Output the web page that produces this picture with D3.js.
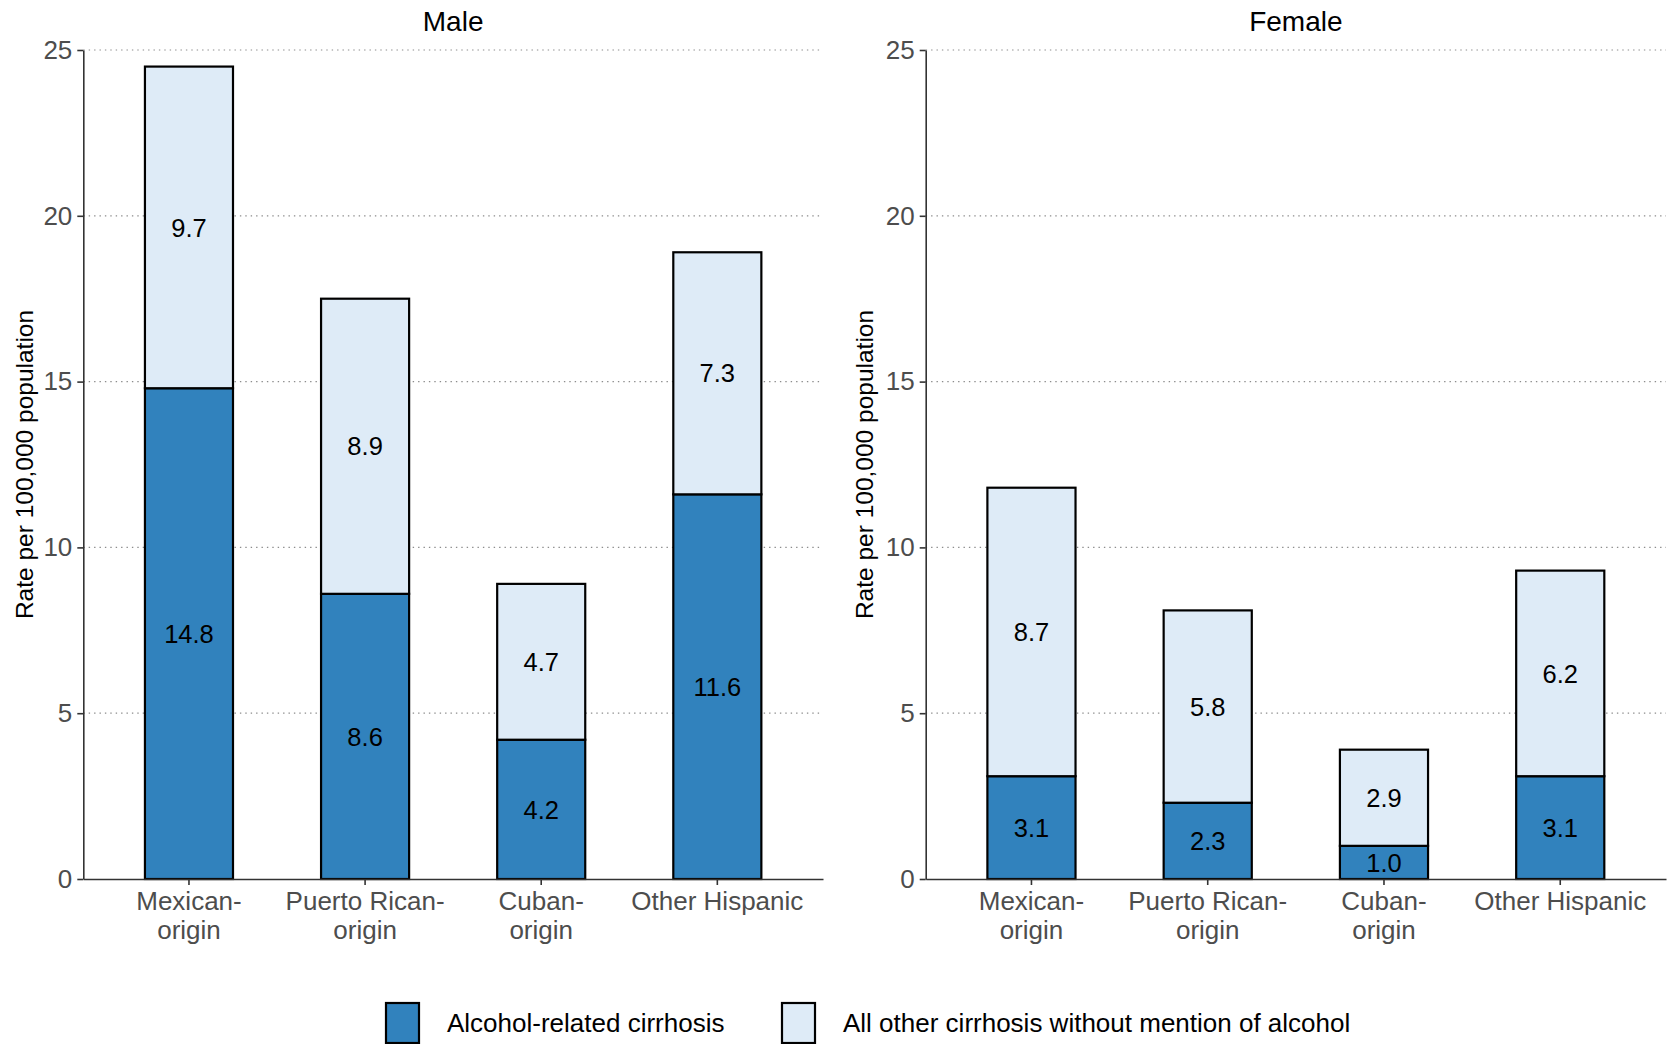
<!DOCTYPE html>
<html>
<head>
<meta charset="utf-8">
<script src="https://cdn.jsdelivr.net/npm/d3@7"></script>
<style>
  body { margin: 0; background: #fff; }
  text { font-family: "Liberation Sans", Arial, Helvetica, sans-serif; }
</style>
</head>
<body>
<div id="chart"></div>
<script>
// data
const categories = ["Mexican-origin", "Puerto Rican-origin", "Cuban-origin", "Other Hispanic"];
const maleAlcohol   = [14.8, 8.6, 4.2, 11.6];
const maleOther     = [9.7, 8.9, 4.7, 7.3];
const femaleAlcohol = [3.1, 2.3, 1.0, 3.1];
const femaleOther   = [8.7, 5.8, 2.9, 6.2];
const yTicks = [0, 5, 10, 15, 20, 25];
const seriesKeys = ["alcohol", "other"];
const seriesNames = ["Alcohol-related cirrhosis", "All other cirrhosis without mention of alcohol"];
const color = { alcohol: "#3182bd", other: "#deebf7" };

const width = 1669, height = 1044;
const svg = d3.select("#chart").append("svg")
    .attr("width", width)
    .attr("height", height);

const panelTop = 50, panelBottom = 879;
const y = d3.scaleLinear().domain([0, 25]).range([panelBottom, panelTop]);

function drawPanel(title, alcohol, other, left, right, titleX) {
  const rows = categories.map((c, i) => ({ cat: c, alcohol: alcohol[i], other: other[i] }));
  const stacked = d3.stack().keys(seriesKeys)(rows);

  const x = d3.scaleBand()
      .domain(categories)
      .range([left, right])
      .paddingInner(0.5)
      .paddingOuter(0.35);

  const g = svg.append("g");

  // gridlines
  g.append("g").selectAll("line")
    .data(yTicks.filter(d => d > 0))
    .enter().append("line")
      .attr("x1", left).attr("x2", right)
      .attr("y1", d => y(d)).attr("y2", d => y(d))
      .style("stroke", "#8c8c8c")
      .style("stroke-width", 1.2)
      .style("stroke-dasharray", "1.4,4");

  // bars
  g.append("g").selectAll("g")
    .data(stacked)
    .enter().append("g")
      .attr("fill", d => color[d.key])
    .selectAll("rect")
    .data(d => d)
    .enter().append("rect")
      .attr("x", d => x(d.data.cat))
      .attr("width", x.bandwidth())
      .attr("y", d => y(d[1]))
      .attr("height", d => y(d[0]) - y(d[1]))
      .style("stroke", "#000")
      .style("stroke-width", 2.2);

  // value labels in middle of each segment
  g.append("g").selectAll("g")
    .data(stacked)
    .enter().append("g")
    .selectAll("text")
    .data(d => d)
    .enter().append("text")
      .attr("x", d => x(d.data.cat) + x.bandwidth() / 2)
      .attr("y", d => y((d[0] + d[1]) / 2))
      .attr("dy", "0.36em")
      .attr("text-anchor", "middle")
      .style("font-size", "25.5px")
      .style("fill", "#000")
      .text(d => (d[1] - d[0]).toFixed(1));

  // y axis
  const yAxis = g.append("g")
      .attr("transform", `translate(${left},0)`)
      .call(d3.axisLeft(y).tickValues(yTicks).tickSize(6).tickPadding(5).tickSizeOuter(0));
  yAxis.select(".domain").style("stroke", "#333").style("stroke-width", 1.6);
  yAxis.selectAll(".tick line").style("stroke", "#333").style("stroke-width", 1.6);
  yAxis.selectAll(".tick text")
      .style("font-size", "26px")
      .style("fill", "#4d4d4d")
      .style("font-family", "'Liberation Sans', Arial, sans-serif");

  // x axis
  const xAxis = g.append("g")
      .attr("transform", `translate(0,${panelBottom})`)
      .call(d3.axisBottom(x).tickSize(6).tickPadding(7).tickSizeOuter(0));
  xAxis.select(".domain").style("stroke", "#333").style("stroke-width", 1.6);
  xAxis.selectAll(".tick line").style("stroke", "#333").style("stroke-width", 1.6);
  xAxis.selectAll(".tick text")
      .style("font-size", "26px")
      .style("fill", "#4d4d4d")
      .style("font-family", "'Liberation Sans', Arial, sans-serif")
      .each(function(d) {
        const t = d3.select(this);
        const parts = d.includes("-") ? [d.slice(0, d.indexOf("-") + 1), d.slice(d.indexOf("-") + 1)] : [d];
        t.text(null);
        parts.forEach((p, i) => {
          t.append("tspan")
            .attr("x", 0)
            .attr("dy", i === 0 ? "0.71em" : "1.1em")
            .text(p);
        });
      })
      .attr("dy", null);

  // panel title
  svg.append("text")
      .attr("x", (left + right) / 2)
      .attr("y", 31)
      .attr("text-anchor", "middle")
      .style("font-size", "28px")
      .style("fill", "#000")
      .text(title);

  // y title
  svg.append("text")
      .attr("transform", `translate(${titleX},${(panelTop + panelBottom) / 2}) rotate(-90)`)
      .attr("text-anchor", "middle")
      .style("font-size", "24.5px")
      .style("fill", "#000")
      .text("Rate per 100,000 population");
}

drawPanel("Male", maleAlcohol, maleOther, 83.3, 823, 33);
drawPanel("Female", femaleAlcohol, femaleOther, 925.7, 1666, 873);

// legend
const legend = svg.append("g");
const legendX = [386, 782];
seriesKeys.forEach((k, i) => {
  legend.append("rect")
      .attr("x", legendX[i])
      .attr("y", 1003)
      .attr("width", 33)
      .attr("height", 40)
      .attr("fill", color[k])
      .style("stroke", "#000")
      .style("stroke-width", 2.2);
  legend.append("text")
      .attr("x", legendX[i] + 61)
      .attr("y", 1023)
      .attr("dy", "0.36em")
      .style("font-size", "26px")
      .style("fill", "#000")
      .text(seriesNames[i]);
});
</script>
</body>
</html>
